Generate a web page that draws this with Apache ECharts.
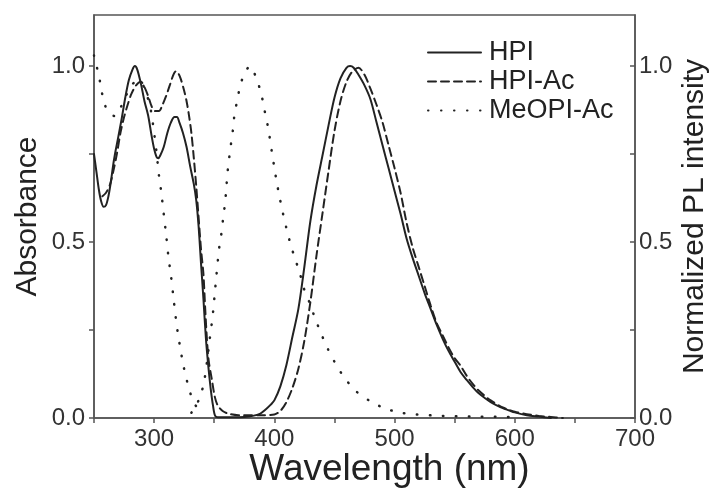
<!DOCTYPE html>
<html>
<head>
<meta charset="utf-8">
<script src="https://cdn.jsdelivr.net/npm/echarts@6/dist/echarts.min.js"></script>
<style>
  html, body { margin: 0; padding: 0; background: #fff; }
  #chart { width: 718px; height: 490px; }
</style>
</head>
<body>
<div id="chart"></div>
<script>
// axis ticks / labels
var xTicks = [250, 300, 350, 400, 450, 500, 550, 600, 650, 700];
var xLabels = [300, 400, 500, 600, 700];
var yTicks = [0, 0.25, 0.5, 0.75, 1.0];
var yLabels = [0, 0.5, 1.0];

// HPI (solid): absorption then PL, [wavelength nm, normalized value]
var hpiAbs = [
  [250, 0.75], [252, 0.70], [254, 0.65], [256, 0.615], [258, 0.60], [260, 0.605],
  [262, 0.63], [264, 0.67], [266, 0.72], [268, 0.76], [270, 0.795], [273, 0.85],
  [276, 0.91], [279, 0.96], [282, 0.99], [284, 1.0], [286, 0.99], [289, 0.95],
  [292, 0.90], [295, 0.86], [298, 0.80], [300, 0.765], [302, 0.742], [303.5, 0.738],
  [305, 0.745], [308, 0.77], [311, 0.81], [314, 0.84], [317, 0.855], [319, 0.855],
  [321, 0.84], [324, 0.81], [327, 0.77], [330, 0.715], [333, 0.665], [335, 0.62],
  [337, 0.545], [339, 0.44], [341, 0.34], [343, 0.23], [345, 0.15], [347, 0.085],
  [349, 0.035], [351, 0.005]
];
var hpiPL = [
  [355, 0.002], [365, 0.002], [375, 0.003], [382, 0.006], [388, 0.012], [393, 0.025],
  [397, 0.038], [400, 0.05], [405, 0.09], [410, 0.15], [415, 0.23], [420, 0.31],
  [425, 0.43], [430, 0.56], [435, 0.66], [440, 0.745], [445, 0.83], [450, 0.91],
  [455, 0.965], [460, 0.995], [463, 1.0], [466, 0.995], [470, 0.975], [475, 0.945],
  [480, 0.905], [485, 0.84], [490, 0.775], [495, 0.71], [500, 0.645], [505, 0.58],
  [510, 0.51], [515, 0.455], [520, 0.405], [525, 0.355], [530, 0.31], [535, 0.265],
  [540, 0.225], [545, 0.19], [550, 0.16], [555, 0.13], [560, 0.108], [565, 0.088],
  [570, 0.07], [575, 0.057], [580, 0.045], [585, 0.036], [590, 0.028], [595, 0.022],
  [600, 0.016], [610, 0.008], [620, 0.004], [630, 0.0]
];

// HPI-Ac (dashed)
var hpiAcAbs = [
  [257, 0.63], [260, 0.64], [263, 0.66], [266, 0.70], [269, 0.75], [272, 0.81],
  [275, 0.855], [278, 0.89], [281, 0.92], [285, 0.945], [289, 0.955], [292, 0.94],
  [295, 0.915], [298, 0.885], [301, 0.872], [304, 0.872], [307, 0.89], [310, 0.915],
  [313, 0.945], [316, 0.975], [318, 0.985], [320, 0.98], [322, 0.965], [325, 0.93],
  [327, 0.90], [329, 0.86], [331, 0.81], [333, 0.74], [335, 0.66], [337, 0.57],
  [339, 0.48], [341, 0.41], [342.5, 0.31], [344, 0.22], [345.5, 0.16], [348, 0.11],
  [350.5, 0.06], [353, 0.035], [357, 0.02], [362, 0.012], [370, 0.008], [380, 0.008],
  [390, 0.008]
];
var hpiAcPL = [
  [400, 0.01], [405, 0.02], [410, 0.045], [415, 0.085], [420, 0.14], [425, 0.22],
  [430, 0.33], [435, 0.46], [440, 0.58], [445, 0.70], [450, 0.815], [455, 0.9],
  [460, 0.955], [465, 0.985], [470, 0.995], [475, 0.975], [480, 0.935], [485, 0.89],
  [490, 0.84], [495, 0.775], [500, 0.71], [505, 0.64], [510, 0.555], [515, 0.485],
  [520, 0.43], [525, 0.375], [530, 0.32], [535, 0.27], [540, 0.235], [545, 0.2],
  [550, 0.17], [555, 0.148], [560, 0.12], [565, 0.097], [570, 0.078], [575, 0.063],
  [580, 0.05], [590, 0.03], [600, 0.018], [610, 0.011], [620, 0.006], [630, 0.003],
  [640, 0.0]
];

// MeOPI-Ac (dotted)
var meoAbs = [
  [250, 1.03], [252.5, 0.995], [254, 0.975], [256, 0.935], [259, 0.89], [263, 0.865],
  [267, 0.858], [271, 0.875], [276, 0.91], [280, 0.94], [285, 0.955], [289, 0.955],
  [292, 0.935], [296, 0.895], [298, 0.86], [300, 0.81], [302, 0.755], [304, 0.69],
  [306, 0.64], [308, 0.58], [310, 0.52], [312, 0.455], [314, 0.405], [316, 0.345],
  [318, 0.285], [320, 0.235], [322, 0.195], [324, 0.155], [327, 0.11], [330, 0.072],
  [333, 0.045], [336, 0.028], [338, 0.02]
];
var meoPL = [
  [331, 0.015], [334, 0.03], [338, 0.058], [341.4, 0.10], [344, 0.16], [346.4, 0.228],
  [348, 0.27], [349.4, 0.313], [350.5, 0.356], [351.7, 0.4], [352.8, 0.44], [354, 0.48],
  [356, 0.525], [357.5, 0.57], [359, 0.61], [360, 0.65], [361, 0.695], [362.5, 0.74],
  [364, 0.78], [365.6, 0.82], [367, 0.866], [369.4, 0.906], [372, 0.95], [377, 0.99],
  [380, 1.0], [385, 0.965], [389, 0.923], [391.5, 0.88], [394, 0.84], [396, 0.80],
  [398, 0.754], [400, 0.712], [402, 0.67], [404.4, 0.627], [407, 0.584], [410, 0.54],
  [413, 0.5], [416.7, 0.458], [421, 0.414], [424.4, 0.37], [429, 0.33], [433.6, 0.286],
  [438.3, 0.245], [444, 0.2], [450, 0.16], [457.8, 0.117], [468, 0.076], [480.6, 0.046],
  [493, 0.026], [505.6, 0.015], [518, 0.01], [540, 0.006], [570, 0.004], [600, 0.003]
];

var font = "'Liberation Sans', Arial, sans-serif";
var ink = '#222';
var axisGrey = '#555';

function yFmt(v) { return v.toFixed(1); }

var myChart = echarts.init(document.getElementById('chart'));

function lineSeries(name, data, type, width) {
  return {
    name: name,
    type: 'line',
    data: data,
    showSymbol: false,
    symbol: 'none',
    smooth: 0.3,
    yAxisIndex: 0,
    lineStyle: { color: ink, width: width || 2, type: type, cap: 'round' },
    itemStyle: { color: ink },
    emphasis: { disabled: true }
  };
}

var yCommon = {
  type: 'value',
  min: 0,
  max: 1.145,
  splitLine: { show: false },
  axisLine: { show: true, lineStyle: { color: axisGrey, width: 1.5 } },
  axisTick: { show: true, length: 5, customValues: yTicks, lineStyle: { color: axisGrey, width: 1.5 } },
  nameLocation: 'middle',
  nameMoveOverlap: false,
  nameRotate: 90
};

myChart.setOption({
  animation: false,
  backgroundColor: '#fff',
  textStyle: { fontFamily: font },
  grid: {
    left: 94, right: 83, top: 15, bottom: 72,
    outerBoundsMode: 'none',
    containLabel: false,
    show: true, borderColor: axisGrey, borderWidth: 1.5
  },
  legend: {
    orient: 'vertical',
    left: 422,
    top: 34,
    itemWidth: 53,
    itemHeight: 14,
    itemGap: 2,
    data: ['HPI', 'HPI-Ac', 'MeOPI-Ac'],
    itemStyle: { opacity: 0 },
    textStyle: { fontFamily: font, fontSize: 27, color: ink, lineHeight: 26, padding: [0, 0, 0, 3] }
  },
  xAxis: {
    type: 'value',
    min: 250,
    max: 700,
    name: 'Wavelength (nm)',
    nameLocation: 'middle',
    nameMoveOverlap: false,
    nameGap: 33,
    nameTextStyle: { fontFamily: font, fontSize: 37, color: ink, padding: [0, 0, 0, 50] },
    splitLine: { show: false },
    axisLine: { onZero: false, lineStyle: { color: axisGrey, width: 1.5 } },
    axisTick: { length: 5, customValues: xTicks, lineStyle: { color: axisGrey, width: 1.5 } },
    axisLabel: { customValues: xLabels, fontSize: 24, color: '#333', margin: 9, fontFamily: font }
  },
  yAxis: [
    Object.assign({}, yCommon, {
      position: 'left',
      name: 'Absorbance',
      nameGap: 51,
      nameTextStyle: { fontFamily: font, fontSize: 30, color: ink },
      axisLabel: { customValues: yLabels, formatter: yFmt, fontSize: 24, color: '#333', margin: 9, fontFamily: font }
    }),
    Object.assign({}, yCommon, {
      position: 'right',
      name: 'Normalized PL intensity',
      nameGap: 45,
      nameTextStyle: { fontFamily: font, fontSize: 30, color: ink },
      axisTick: { show: true, inside: true, length: 5, customValues: yTicks, lineStyle: { color: axisGrey, width: 1.5 } },
      axisLabel: { customValues: yLabels, formatter: yFmt, fontSize: 24, color: '#333', margin: 4, fontFamily: font }
    })
  ],
  series: [
    lineSeries('HPI', hpiAbs.concat(hpiPL), 'solid'),
    lineSeries('HPI-Ac', hpiAcAbs.concat(hpiAcPL), [8, 5]),
    lineSeries('MeOPI-Ac', meoAbs, [0.5, 12.5], 2.5),
    lineSeries('MeOPI-Ac', meoPL, [0.5, 12.5], 2.5)
  ]
});
</script>
</body>
</html>
